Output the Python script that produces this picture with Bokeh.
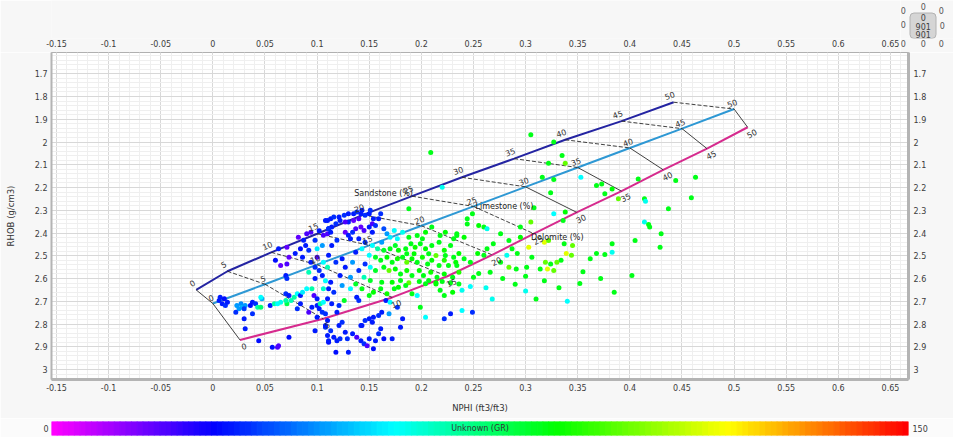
import math
from bokeh.plotting import figure
from bokeh.models import (Range1d, SingleIntervalTicker, FixedTicker, LinearAxis, CustomJSTickFormatter,
                          ColumnDataSource)
from bokeh.layouts import column, row
from bokeh.transform import linear_cmap
from bokeh.core.properties import value
from bokeh.embed import file_html
from bokeh.resources import INLINE

# ---------------- chart data ----------------
POROSITY = [0, 5, 10, 15, 20, 25, 30, 35, 40, 45, 50]
SAND_NPHI = [-0.016, 0.014, 0.056, 0.100, 0.144, 0.191, 0.239, 0.289, 0.338, 0.392, 0.442]
SAND_RHOB = [2.65, 2.568, 2.485, 2.403, 2.32, 2.238, 2.155, 2.073, 1.99, 1.908, 1.825]
LIME_NPHI = [0.0, 0.05, 0.10, 0.15, 0.20, 0.25, 0.30, 0.35, 0.40, 0.45, 0.50]
LIME_RHOB = [2.71, 2.625, 2.539, 2.454, 2.368, 2.283, 2.197, 2.112, 2.026, 1.941, 1.855]
DOLO_NPHI = [0.026, 0.106, 0.172, 0.225, 0.268, 0.308, 0.349, 0.392, 0.432, 0.474, 0.513]
DOLO_RHOB = [2.87, 2.777, 2.683, 2.59, 2.496, 2.403, 2.309, 2.216, 2.122, 2.029, 1.935]
SERIES_NAMES = ["Sandstone (%)", "Limestone (%)", "Dolomite (%)"]

GR_LOW, GR_HIGH = 0, 150
COLORBAR_TITLE = "Unknown (GR)"
X_TITLE = "NPHI (ft3/ft3)"
Y_TITLE = "RHOB (g/cm3)"
NAV_LINES = ["0", "901", "901"]
NAV_ZERO = "0"

# samples: (NPHI, RHOB, GR)
PTS_LEFT_UPPER = [
    (0.082, 2.418, 18), (0.071, 2.462, 18), (0.063, 2.469, 32), (0.073, 2.506, 18), (0.065, 2.543, 18),
    (0.071, 2.536, 20), (0.060, 2.520, 30), (0.079, 2.490, 32), (0.084, 2.469, 30), (0.087, 2.432, 32),
    (0.090, 2.403, 20), (0.094, 2.396, 20), (0.089, 2.455, 32), (0.092, 2.476, 34), (0.086, 2.506, 32),
    (0.098, 2.432, 34), (0.100, 2.469, 58), (0.105, 2.455, 48), (0.100, 2.506, 20), (0.094, 2.528, 32),
    (0.098, 2.550, 34), (0.106, 2.528, 60), (0.102, 2.565, 34), (0.105, 2.587, 32), (0.092, 2.572, 68),
    (0.098, 2.600, 32), (0.070, 2.587, 32), (0.071, 2.600, 34), (0.108, 2.610, 60), (0.110, 2.550, 68),
    (0.102, 2.390, 32), (0.106, 2.410, 20), (0.110, 2.345, 32), (0.111, 2.380, 34),
]
PTS_LEFT_LOWER = [
    (0.007, 2.682, 32), (0.011, 2.689, 30), (0.006, 2.696, 32), (0.009, 2.711, 32), (0.012, 2.718, 34),
    (0.014, 2.704, 32), (0.023, 2.718, 48), (0.027, 2.711, 46), (0.028, 2.726, 50), (0.031, 2.718, 48),
    (0.030, 2.733, 36), (0.025, 2.733, 48), (0.022, 2.748, 34), (0.038, 2.704, 32), (0.036, 2.718, 30),
    (0.041, 2.711, 34), (0.043, 2.726, 70), (0.046, 2.726, 76), (0.047, 2.689, 50), (0.046, 2.682, 60),
    (0.055, 2.718, 32), (0.059, 2.711, 70), (0.062, 2.711, 60), (0.065, 2.704, 62), (0.071, 2.711, 80),
    (0.070, 2.696, 70), (0.075, 2.696, 68), (0.078, 2.682, 70), (0.081, 2.667, 60), (0.084, 2.675, 32),
    (0.086, 2.660, 58), (0.090, 2.645, 60), (0.095, 2.645, 70), (0.097, 2.675, 20), (0.070, 2.667, 34),
    (0.073, 2.675, 32), (0.084, 2.711, 32), (0.081, 2.733, 34), (0.092, 2.748, 20), (0.095, 2.726, 32),
    (0.100, 2.718, 32), (0.103, 2.711, 70), (0.106, 2.704, 60), (0.102, 2.733, 32), (0.105, 2.748, 34),
    (0.030, 2.777, 32), (0.038, 2.755, 34), (0.031, 2.821, 32), (0.044, 2.873, 30), (0.057, 2.902, 30),
    (0.062, 2.902, 20), (0.063, 2.895, 20), (0.073, 2.858, 30), (0.098, 2.829, 32), (0.100, 2.770, 32),
    (0.108, 2.755, 34), (0.110, 2.784, 32), (0.110, 2.850, 32), (0.111, 2.880, 30), (0.108, 2.814, 34),
    (0.106, 2.645, 66), (0.100, 2.689, 32),
]
PTS_MID_UPPER = [
    (0.108, 2.345, 32), (0.113, 2.337, 32), (0.116, 2.330, 34), (0.121, 2.330, 32), (0.126, 2.322, 34),
    (0.130, 2.315, 32), (0.135, 2.315, 32), (0.138, 2.308, 34), (0.142, 2.315, 32), (0.143, 2.300, 32),
    (0.146, 2.322, 34), (0.150, 2.315, 32), (0.151, 2.300, 34), (0.154, 2.337, 32), (0.140, 2.337, 20),
    (0.135, 2.345, 18), (0.130, 2.352, 32), (0.127, 2.352, 20), (0.122, 2.345, 32), (0.118, 2.359, 34),
    (0.114, 2.374, 32), (0.111, 2.381, 34), (0.110, 2.403, 20), (0.113, 2.396, 32), (0.127, 2.396, 18),
    (0.130, 2.410, 32), (0.134, 2.396, 34), (0.132, 2.425, 32), (0.137, 2.381, 20), (0.142, 2.374, 18),
    (0.145, 2.389, 20), (0.150, 2.374, 32), (0.153, 2.359, 20), (0.156, 2.367, 34), (0.140, 2.425, 32),
    (0.146, 2.440, 34), (0.153, 2.396, 32), (0.159, 2.337, 32), (0.161, 2.315, 34), (0.164, 2.381, 38),
    (0.167, 2.403, 48), (0.170, 2.418, 58), (0.174, 2.389, 60), (0.182, 2.396, 62), (0.188, 2.293, 86),
    (0.210, 2.374, 86), (0.204, 2.396, 88), (0.162, 2.440, 48), (0.153, 2.455, 60), (0.158, 2.469, 70),
    (0.164, 2.476, 84), (0.170, 2.469, 86), (0.175, 2.455, 84), (0.178, 2.476, 88), (0.185, 2.469, 86),
    (0.190, 2.447, 86), (0.194, 2.462, 90), (0.199, 2.447, 86), (0.204, 2.469, 88), (0.210, 2.455, 86),
    (0.217, 2.440, 86), (0.222, 2.476, 90), (0.228, 2.455, 86), (0.231, 2.425, 86), (0.236, 2.490, 88),
    (0.150, 2.498, 60), (0.156, 2.506, 84), (0.161, 2.520, 86), (0.167, 2.506, 88), (0.172, 2.528, 86),
    (0.177, 2.513, 90), (0.182, 2.506, 86), (0.186, 2.528, 100), (0.191, 2.513, 88), (0.196, 2.528, 86),
    (0.201, 2.506, 90), (0.206, 2.536, 86), (0.210, 2.520, 88), (0.217, 2.543, 86), (0.222, 2.520, 92),
    (0.226, 2.543, 86), (0.233, 2.528, 88), (0.146, 2.536, 34), (0.151, 2.550, 60), (0.156, 2.565, 84),
    (0.164, 2.550, 86), (0.169, 2.565, 100), (0.175, 2.558, 88), (0.180, 2.580, 86), (0.186, 2.565, 90),
    (0.191, 2.587, 86), (0.198, 2.565, 88), (0.202, 2.587, 86), (0.209, 2.572, 90), (0.215, 2.594, 86),
    (0.222, 2.580, 88), (0.230, 2.594, 86), (0.236, 2.572, 92), (0.114, 2.455, 32), (0.119, 2.432, 34),
    (0.111, 2.498, 32), (0.118, 2.528, 34), (0.124, 2.513, 32), (0.127, 2.550, 32), (0.134, 2.528, 48),
    (0.140, 2.565, 34), (0.137, 2.484, 32), (0.143, 2.469, 60), (0.122, 2.587, 32), (0.132, 2.594, 48),
    (0.145, 2.594, 68), (0.151, 2.609, 84), (0.220, 2.199, 62), (0.244, 2.360, 86), (0.209, 2.046, 86),
    (0.177, 2.425, 60), (0.188, 2.418, 86), (0.196, 2.411, 86), (0.201, 2.425, 86), (0.218, 2.411, 86),
    (0.223, 2.396, 88), (0.234, 2.403, 86), (0.186, 2.491, 86), (0.193, 2.491, 88), (0.207, 2.491, 86),
    (0.214, 2.499, 100), (0.223, 2.499, 86), (0.231, 2.506, 86), (0.162, 2.616, 86), (0.172, 2.616, 88),
    (0.180, 2.609, 86), (0.188, 2.619, 100), (0.198, 2.613, 86), (0.204, 2.623, 86), (0.214, 2.619, 88),
    (0.220, 2.613, 86), (0.228, 2.619, 86),
]
PTS_MID_LOWER = [
    (0.113, 2.616, 32), (0.111, 2.645, 32), (0.116, 2.660, 34), (0.110, 2.689, 32), (0.114, 2.711, 32),
    (0.121, 2.718, 34), (0.126, 2.696, 84), (0.119, 2.748, 32), (0.124, 2.631, 48), (0.132, 2.645, 60),
    (0.138, 2.682, 32), (0.140, 2.696, 34), (0.137, 2.624, 84), (0.143, 2.645, 86), (0.150, 2.675, 86),
    (0.154, 2.660, 88), (0.161, 2.645, 86), (0.167, 2.667, 90), (0.174, 2.645, 86), (0.178, 2.638, 88),
    (0.185, 2.631, 86), (0.191, 2.667, 86), (0.196, 2.675, 60), (0.199, 2.726, 86), (0.204, 2.770, 60),
    (0.207, 2.609, 86), (0.214, 2.624, 88), (0.218, 2.652, 86), (0.222, 2.675, 86), (0.230, 2.660, 88),
    (0.236, 2.624, 86), (0.239, 2.652, 62), (0.228, 2.755, 32), (0.222, 2.777, 34), (0.166, 2.696, 32),
    (0.170, 2.704, 60), (0.177, 2.726, 34), (0.182, 2.777, 32), (0.169, 2.755, 48), (0.154, 2.770, 32),
    (0.159, 2.762, 34), (0.162, 2.748, 32), (0.150, 2.777, 32), (0.146, 2.784, 34), (0.153, 2.792, 32),
    (0.143, 2.806, 32), (0.108, 2.806, 32), (0.113, 2.829, 34), (0.116, 2.858, 32), (0.119, 2.873, 32),
    (0.122, 2.865, 34), (0.111, 2.873, 32), (0.118, 2.924, 30), (0.130, 2.924, 32), (0.127, 2.836, 32),
    (0.129, 2.865, 34), (0.134, 2.843, 32), (0.138, 2.858, 20), (0.142, 2.873, 32), (0.145, 2.887, 34),
    (0.148, 2.895, 20), (0.150, 2.865, 32), (0.156, 2.873, 32), (0.159, 2.843, 34), (0.161, 2.821, 32),
    (0.164, 2.865, 30), (0.172, 2.865, 32), (0.154, 2.909, 30), (0.180, 2.814, 32), (0.121, 2.806, 32),
    (0.124, 2.792, 34), (0.142, 2.806, 32),
    (0.247, 2.635, 60), (0.239, 2.740, 60), (0.249, 2.748, 34), (0.250, 2.594, 86), (0.255, 2.578, 86),
]
PTS_RIGHT = [
    (0.305, 1.968, 86), (0.327, 2.000, 86), (0.335, 2.059, 86), (0.338, 2.093, 100), (0.322, 2.093, 86),
    (0.353, 2.155, 60), (0.316, 2.155, 86), (0.327, 2.165, 86), (0.324, 2.223, 86), (0.308, 2.289, 86),
    (0.327, 2.315, 60), (0.338, 2.308, 88), (0.336, 2.345, 86), (0.368, 2.191, 86), (0.373, 2.184, 86),
    (0.383, 2.206, 88), (0.376, 2.227, 86), (0.389, 2.249, 100), (0.408, 2.162, 86), (0.414, 2.249, 86),
    (0.415, 2.260, 62), (0.444, 2.169, 86), (0.463, 2.155, 86), (0.459, 2.245, 86), (0.437, 2.293, 86),
    (0.414, 2.352, 62), (0.418, 2.362, 86), (0.419, 2.374, 86), (0.430, 2.403, 86), (0.405, 2.433, 86),
    (0.429, 2.462, 86), (0.383, 2.447, 86), (0.383, 2.484, 62), (0.376, 2.494, 86), (0.362, 2.513, 86),
    (0.402, 2.587, 86), (0.305, 2.352, 100), (0.295, 2.374, 86), (0.276, 2.403, 86), (0.260, 2.374, 86),
    (0.255, 2.367, 88), (0.263, 2.381, 62), (0.244, 2.337, 86), (0.249, 2.315, 86), (0.234, 2.411, 86),
    (0.241, 2.418, 88), (0.269, 2.447, 86), (0.284, 2.433, 86), (0.295, 2.418, 88), (0.303, 2.462, 115),
    (0.318, 2.440, 115), (0.322, 2.433, 100), (0.337, 2.447, 86), (0.345, 2.455, 100), (0.339, 2.490, 115),
    (0.344, 2.498, 100), (0.334, 2.520, 86), (0.330, 2.528, 100), (0.324, 2.536, 86), (0.319, 2.528, 100),
    (0.314, 2.558, 86), (0.321, 2.558, 115), (0.327, 2.565, 100), (0.306, 2.506, 86), (0.301, 2.550, 86),
    (0.292, 2.490, 86), (0.287, 2.469, 86), (0.282, 2.498, 62), (0.276, 2.528, 86), (0.284, 2.550, 100),
    (0.291, 2.558, 86), (0.263, 2.469, 86), (0.260, 2.498, 86), (0.254, 2.490, 88), (0.247, 2.528, 86),
    (0.241, 2.513, 86), (0.234, 2.543, 86), (0.266, 2.572, 86), (0.368, 2.490, 86),
    (0.262, 2.640, 62), (0.278, 2.600, 86), (0.290, 2.625, 86), (0.300, 2.655, 62), (0.318, 2.610, 86),
    (0.332, 2.640, 86), (0.352, 2.622, 86), (0.372, 2.600, 86), (0.385, 2.660, 86), (0.340, 2.700, 60),
    (0.310, 2.690, 86), (0.268, 2.690, 62), (0.300, 2.590, 86), (0.355, 2.570, 86),
]

# ---------------- styling ----------------
FONT = "DejaVu Sans"
SAND_COLOR, LIME_COLOR, DOLO_COLOR = "#2424a2", "#2e98d4", "#d62b8e"
BG = "#f7f7f7"


def make_palette():
    anchors = [(0.0, (255, 0, 255)), (0.19, (0, 0, 255)), (0.40, (0, 255, 255)),
               (0.59, (0, 255, 0)), (0.79, (255, 255, 0)), (1.0, (255, 0, 0))]
    out = []
    for i in range(256):
        t = i / 255
        for (t0, c0), (t1, c1) in zip(anchors[:-1], anchors[1:]):
            if t0 <= t <= t1:
                f = (t - t0) / (t1 - t0)
                rgb = [round(a + (b - a) * f) for a, b in zip(c0, c1)]
                out.append("#%02x%02x%02x" % tuple(rgb))
                break
    return out


PALETTE = make_palette()

X0, X1 = -0.1548, 0.6673
Y_BOTTOM, Y_TOP = 3.0438, 1.6064
W = 953
HEAD_H, MAIN_H, CB_H = 52, 366, 19
HEAD_AXIS = 14
BL, BR, BB = 51, 45, 39
NAV_W = 53
KX = (W - BL - BR) / (X1 - X0)
KY = (MAIN_H - BB) / (Y_BOTTOM - Y_TOP)

xticker = SingleIntervalTicker(interval=0.05, num_minor_ticks=5)
yticker = SingleIntervalTicker(interval=0.1, num_minor_ticks=5)
fmt = CustomJSTickFormatter(code="return String(Math.round(tick*1000)/1000);")


def style_axis(ax, ticker, line_w, formatter=fmt):
    ax.ticker = ticker
    ax.formatter = formatter
    ax.major_tick_in = 0
    ax.major_tick_out = 0
    ax.minor_tick_in = 0
    ax.minor_tick_out = 0
    ax.major_label_text_font = FONT
    ax.major_label_text_font_size = "8px"
    ax.major_label_text_color = "#3c3c3c"
    ax.axis_line_color = "#b4b4b4" if line_w else None
    ax.axis_line_width = max(line_w, 1)
    ax.axis_label_text_font = FONT
    ax.axis_label_text_font_size = "8.5px"
    ax.axis_label_text_font_style = "normal"
    ax.axis_label_text_color = "#333333"


def bare(fig):
    fig.outline_line_color = None
    fig.grid.visible = False


# ---------------- header: top axis + navigation widget ----------------
head_w = W - NAV_W
hd = figure(width=head_w, height=HEAD_H, x_range=Range1d(X0, X0 + (head_w - BL) / KX), y_range=Range1d(0, 1),
            output_backend="svg", toolbar_location=None, x_axis_location="below", y_axis_location=None,
            min_border_left=BL, min_border_right=0, min_border_top=0, min_border_bottom=HEAD_AXIS,
            background_fill_color=BG, border_fill_color=BG)
bare(hd)
style_axis(hd.xaxis[0], xticker, 0)
hd.xaxis[0].major_label_standoff = 1

nav_h = HEAD_H - HEAD_AXIS
nav = figure(width=NAV_W, height=HEAD_H, x_range=Range1d(0, NAV_W), y_range=Range1d(nav_h, 0),
             output_backend="svg", toolbar_location=None, x_axis_location="below", y_axis_location=None,
             min_border_left=0, min_border_right=0, min_border_top=0, min_border_bottom=HEAD_AXIS,
             background_fill_color=BG, border_fill_color=BG)
bare(nav)
style_axis(nav.xaxis[0], FixedTicker(ticks=[2.7, 22.7, 40.7]), 0,
           CustomJSTickFormatter(code="return '%s';" % NAV_ZERO))
nav.xaxis[0].major_label_standoff = 1
nav.xaxis[0].major_label_text_color = "#555555"
box = dict(left=[9.5], right=[35.5], top=[12.5], bottom=[nav_h], fill_color="#d5d5d5", line_color="#b2b2b2")
try:
    nav.quad(border_radius=4, **box)
except Exception:
    nav.quad(**box)
nav.text([22.7, 22.7, 22.7], [16.5, 25.5, 34], text=NAV_LINES, text_font=value(FONT), text_font_size="8px",
         text_color="#404040", text_align="center", text_baseline="middle")
nav.text([2.7, 22.7, 40.7, 2.7, 41.7], [10, 6, 10, 24, 25],
         text=[NAV_ZERO] * 5, text_font=value(FONT), text_font_size="8px", text_color="#555555",
         text_align="center", text_baseline="middle")

# ---------------- main plot ----------------
p = figure(width=W, height=MAIN_H, x_range=Range1d(X0, X1), y_range=Range1d(Y_BOTTOM, Y_TOP),
           output_backend="svg", toolbar_location=None,
           min_border_left=BL, min_border_right=BR, min_border_top=0, min_border_bottom=BB,
           background_fill_color="white", border_fill_color=BG)
p.outline_line_color = "#b0b0b0"

xb = p.xaxis[0]
style_axis(xb, xticker, 3)
xb.axis_label = X_TITLE
xb.major_label_standoff = 4
xb.axis_label_standoff = 9
yl = p.yaxis[0]
style_axis(yl, yticker, 2)
yl.axis_label = Y_TITLE
yl.major_label_standoff = 4
yl.axis_label_standoff = 16
yr = LinearAxis()
style_axis(yr, yticker, 3)
yr.major_label_standoff = 5
p.add_layout(yr, "right")

p.xgrid.ticker = xticker
p.ygrid.ticker = yticker
for g in (p.xgrid[0], p.ygrid[0]):
    g.grid_line_color = "#d8d8d8"
    g.minor_grid_line_color = "#efefef"

p.line(SAND_NPHI, SAND_RHOB, line_color=SAND_COLOR, line_width=2)
p.line(LIME_NPHI, LIME_RHOB, line_color=LIME_COLOR, line_width=2)
p.line(DOLO_NPHI, DOLO_RHOB, line_color=DOLO_COLOR, line_width=2)

for i, ph in enumerate(POROSITY):
    dash = "solid" if ph == 0 else "4 2"
    p.line([SAND_NPHI[i], LIME_NPHI[i]], [SAND_RHOB[i], LIME_RHOB[i]],
           line_color="#2b2b2b", line_width=0.9, line_dash=dash)
    p.line([LIME_NPHI[i], DOLO_NPHI[i]], [LIME_RHOB[i], DOLO_RHOB[i]],
           line_color="#2b2b2b", line_width=0.9, line_dash=dash if ph < 30 else "solid")

pts = PTS_LEFT_UPPER + PTS_LEFT_LOWER + PTS_MID_UPPER + PTS_MID_LOWER + PTS_RIGHT
src = ColumnDataSource(dict(nphi=[a for a, b, c in pts], rhob=[b for a, b, c in pts], gr=[c for a, b, c in pts]))
p.scatter("nphi", "rhob", source=src, size=5, line_color=None,
          fill_color=linear_cmap("gr", PALETTE, GR_LOW, GR_HIGH))


def angles(xs, ys):
    out = []
    n = len(xs)
    for i in range(n):
        a, b = max(i - 1, 0), min(i + 1, n - 1)
        dx = (xs[b] - xs[a]) * KX
        dy = (ys[a] - ys[b]) * KY
        out.append(math.atan2(dy, dx))
    return out


labels = [str(v) for v in POROSITY]
for xs, ys, xo, yo in ((SAND_NPHI, SAND_RHOB, -4, -7), (LIME_NPHI, LIME_RHOB, -2, -6),
                       (DOLO_NPHI, DOLO_RHOB, 4, 6)):
    p.text(xs, ys, text=labels, angle=angles(xs, ys), x_offset=xo, y_offset=yo,
           text_font=value(FONT), text_font_size="8px", text_color="#333333",
           text_align="center", text_baseline="middle")

name_style = dict(text_font=value(FONT), text_font_size="8px", text_color="#222222", text_baseline="middle")
p.text([SAND_NPHI[5]], [SAND_RHOB[5]], text=[SERIES_NAMES[0]], x_offset=1, y_offset=-3,
       text_align="right", **name_style)
p.text([LIME_NPHI[5]], [LIME_RHOB[5]], text=[SERIES_NAMES[1]], x_offset=2, y_offset=0,
       text_align="left", **name_style)
p.text([DOLO_NPHI[5]], [DOLO_RHOB[5]], text=[SERIES_NAMES[2]], x_offset=-3, y_offset=4,
       text_align="left", **name_style)

# ---------------- colour bar ----------------
cb = figure(width=W, height=CB_H, x_range=Range1d(GR_LOW, GR_HIGH), y_range=Range1d(0, 1),
            output_backend="svg", toolbar_location=None, x_axis_location=None, y_axis_location="left",
            min_border_left=BL, min_border_right=BR, min_border_top=3, min_border_bottom=2,
            background_fill_color="#fbfbfb", border_fill_color="#fbfbfb")
bare(cb)
style_axis(cb.yaxis[0], FixedTicker(ticks=[0.5]), 0, CustomJSTickFormatter(code="return '%s';" % GR_LOW))
cb.yaxis[0].major_label_standoff = 3
cb_right = LinearAxis()
style_axis(cb_right, FixedTicker(ticks=[0.5]), 0, CustomJSTickFormatter(code="return '%s';" % GR_HIGH))
cb_right.major_label_standoff = 4
cb.add_layout(cb_right, "right")
steps = list(range(GR_LOW, GR_HIGH + 1))
cmap = linear_cmap("mid", PALETTE, GR_LOW, GR_HIGH)
csrc = ColumnDataSource(dict(left=steps[:-1], right=steps[1:], mid=[s + 0.5 for s in steps[:-1]]))
cb.quad(left="left", right="right", bottom=0, top=1, source=csrc, fill_color=cmap, line_color=cmap)
cb.text([(GR_LOW + GR_HIGH) / 2], [0.5], text=[COLORBAR_TITLE], text_align="center", text_baseline="middle",
        text_font=value(FONT), text_font_size="8px", text_color="#333333")

layout = column(row(hd, nav, spacing=0), p, cb, spacing=0)
open("out.html", "w").write(file_html(layout, INLINE))
